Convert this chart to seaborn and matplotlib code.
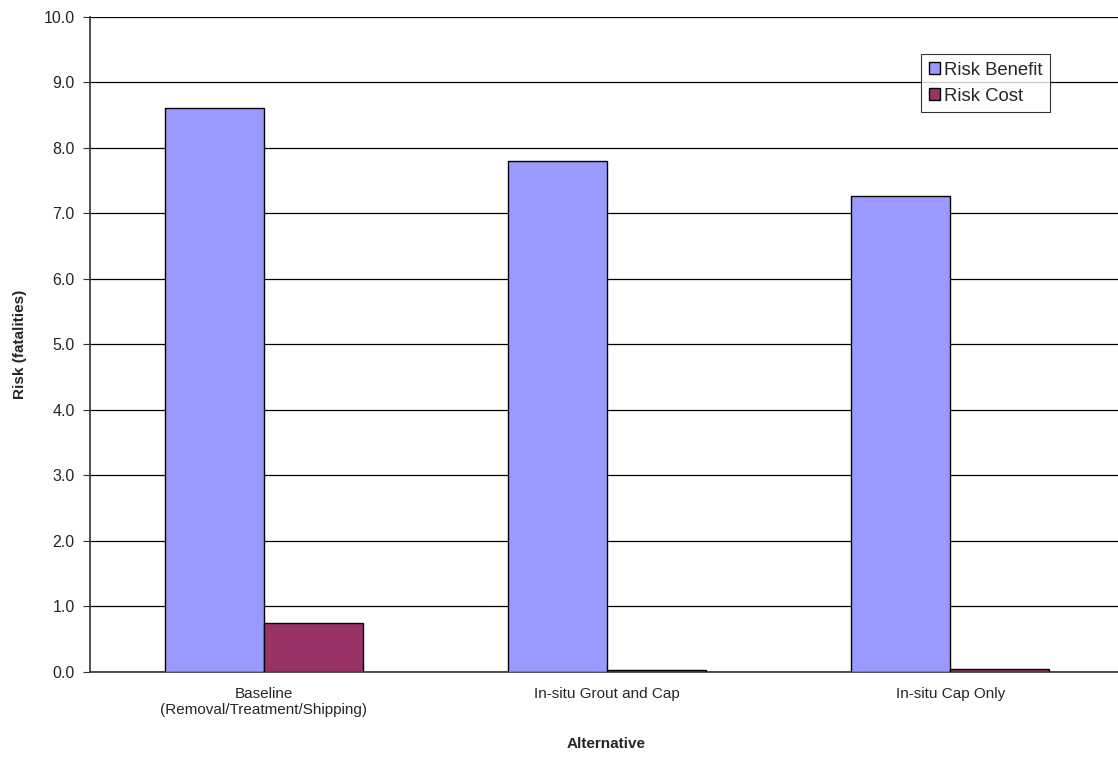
import matplotlib
matplotlib.use("Agg")
import matplotlib.pyplot as plt
import pandas as pd
import seaborn as sns
from matplotlib.ticker import FixedLocator, FormatStrFormatter

categories = ["Baseline\n(Removal/Treatment/Shipping)", "In-situ Grout and Cap", "In-situ Cap Only"]
risk_benefit = [8.61, 7.80, 7.27]
risk_cost = [0.75, 0.03, 0.04]
series_names = ["Risk Benefit", "Risk Cost"]
y_ticks = [0.0, 1.0, 2.0, 3.0, 4.0, 5.0, 6.0, 7.0, 8.0, 9.0, 10.0]

df = pd.DataFrame({
    "Alternative": categories * 2,
    "Risk": risk_benefit + risk_cost,
    "Series": [series_names[0]] * 3 + [series_names[1]] * 3,
})

sns.set_style("white")
plt.rcParams["font.family"] = ["Liberation Sans", "DejaVu Sans"]

fig = plt.figure(figsize=(11.18, 7.65), dpi=100)
# the plot area runs slightly past the right edge of the canvas
ax = fig.add_axes([0.0805, 0.1216, 0.9231, 0.8562])

sns.barplot(data=df, x="Alternative", y="Risk", hue="Series",
            palette={"Risk Benefit": "#9999FF", "Risk Cost": "#993366"},
            saturation=1, width=0.576, edgecolor="black", linewidth=1.0, ax=ax,
            errorbar=None, zorder=3)

ax.set_ylim(0, 10)
ax.set_xlim(-0.506, 2.494)
ax.yaxis.set_major_locator(FixedLocator(y_ticks))
ax.yaxis.set_major_formatter(FormatStrFormatter("%.1f"))
ax.grid(axis="y", color="black", linewidth=0.9, zorder=0)
ax.set_axisbelow(True)

for side in ["top", "right"]:
    ax.spines[side].set_visible(False)
ax.spines["left"].set_color("#333333")
ax.spines["bottom"].set_color("#333333")
ax.spines["left"].set_linewidth(1.2)
ax.spines["bottom"].set_linewidth(1.2)

# category labels sit between boundary tick marks
ax.set_xticks([0, 1, 2])
ax.set_xticklabels(categories, fontsize=11)
ax.tick_params(axis="x", length=0, pad=11)
ax.set_xticks([-0.5, 0.5, 1.5, 2.5], minor=True)
ax.tick_params(axis="x", which="minor", length=5, color="#333333", direction="out")
ax.tick_params(axis="y", length=5, color="#333333", direction="out", labelsize=11.5, pad=6, left=True)

ax.set_xlabel("Alternative", fontsize=11, fontweight="bold", labelpad=14)
ax.set_ylabel("Risk (fatalities)", fontsize=11, fontweight="bold", labelpad=12)

leg = ax.legend(loc="upper left", bbox_to_anchor=(0.8055, 0.943), frameon=True,
                fancybox=False, edgecolor="black", fontsize=13.3,
                handlelength=0.62, handleheight=0.62, handletextpad=0.22,
                borderpad=0.4, labelspacing=0.5, borderaxespad=0)
leg.get_frame().set_linewidth(0.8)

fig.savefig("out.png", dpi=100)
